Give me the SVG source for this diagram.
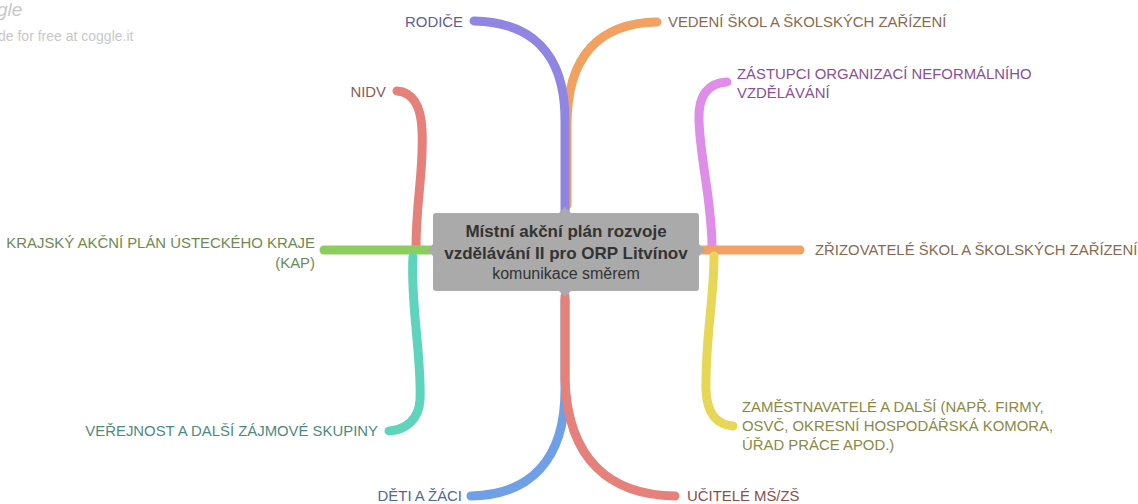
<svg xmlns="http://www.w3.org/2000/svg" width="1138" height="504" viewBox="0 0 1138 504">
<style>
.br{fill:none;stroke-width:9;stroke-linecap:round;stroke-linejoin:round}
.lb{font-family:"Liberation Sans",Arial,sans-serif;font-size:14.9px}
.ct{font-family:"Liberation Sans",Arial,sans-serif;fill:#333;text-anchor:middle}
.wm{font-family:"Liberation Sans",Arial,sans-serif;fill:#c8c8c8}
</style>
<rect width="1138" height="504" fill="#fff"/>
<g id="watermark">
<text class="wm" x="-3" y="16" font-size="19" font-style="italic" font-family="'DejaVu Serif',serif">gle</text>
<text class="wm" x="-2" y="41" font-size="14">de for free at coggle.it</text>
</g>
<g id="connectors">
<path class="br" stroke="#f1a262" d="M567,205 L567,125 C567,55 600,23 657,22"/>
<path class="br" stroke="#9085e3" d="M565,212 L565,120 C565,52 530,22 474,21"/>
<path class="br" stroke="#e5807a" d="M416,248 C416,200 424,170 422,130 C421,105 412,92 397,91"/>
<path class="br" stroke="#8ccd5d" d="M430,250 L324,250"/>
<path class="br" stroke="#5ed4bd" d="M413,257 C410,300 422,360 420,400 C419,420 405,430 389,431"/>
<path class="br" stroke="#de8ee8" d="M712,248 C712,200 700,160 699,120 C698,95 708,83 727,82"/>
<path class="br" stroke="#f1a262" d="M702,250 L800,250"/>
<path class="br" stroke="#e8d656" d="M714,256 C714,300 705,340 706,390 C707,415 718,425 733,426"/>
<path class="br" stroke="#6f9fe6" d="M565,300 L565,390 C565,460 530,495 471,496"/>
<path class="br" stroke="#e5807a" d="M565,296 L565,380 C568,460 610,495 675,496"/>
</g>
<g id="center">
<path fill="#aaaaaa" d="M436,213 L559,213 L565,207 L571,213 L696,213 Q699,213 699,216 L699,244 L705,250 L699,256 L699,288 Q699,291 696,291 L571,291 L565,297 L559,291 L436,291 Q433,291 433,288 L433,256 L427,250 L433,244 L433,216 Q433,213 436,213 Z"/>
<text class="ct" x="566" y="237" font-size="17" font-weight="bold">Místní akční plán rozvoje</text>
<text class="ct" x="566" y="259" font-size="17" font-weight="bold">vzdělávání II pro ORP Litvínov</text>
<text class="ct" x="566" y="279" font-size="16">komunikace směrem</text>
</g>
<g id="n-rodice"><text class="lb" x="463" y="27" text-anchor="end" fill="#5f5c9c">RODIČE</text></g>
<g id="n-vedeni"><text class="lb" x="668" y="27" fill="#8a6a4f">VEDENÍ ŠKOL A ŠKOLSKÝCH ZAŘÍZENÍ</text></g>
<g id="n-nidv"><text class="lb" x="386" y="97" text-anchor="end" fill="#8b5a56">NIDV</text></g>
<g id="n-kap"><text class="lb" text-anchor="end" fill="#6e8a52"><tspan x="315" y="248">KRAJSKÝ AKČNÍ PLÁN ÚSTECKÉHO KRAJE</tspan><tspan x="315" y="268">(KAP)</tspan></text></g>
<g id="n-verejnost"><text class="lb" x="378" y="436" text-anchor="end" fill="#4f8a7e">VEŘEJNOST A DALŠÍ ZÁJMOVÉ SKUPINY</text></g>
<g id="n-zastupci"><text class="lb" fill="#8a4f96"><tspan x="737" y="79">ZÁSTUPCI ORGANIZACÍ NEFORMÁLNÍHO</tspan><tspan x="737" y="98">VZDĚLÁVÁNÍ</tspan></text></g>
<g id="n-zrizovatele"><text class="lb" x="815" y="255" fill="#8a6a4f">ZŘIZOVATELÉ ŠKOL A ŠKOLSKÝCH ZAŘÍZENÍ</text></g>
<g id="n-zamestnavatele"><text class="lb" fill="#8a8a45"><tspan x="742" y="412">ZAMĚSTNAVATELÉ A DALŠÍ (NAPŘ. FIRMY,</tspan><tspan x="742" y="431">OSVČ, OKRESNÍ HOSPODÁŘSKÁ KOMORA,</tspan><tspan x="742" y="450">ÚŘAD PRÁCE APOD.)</tspan></text></g>
<g id="n-deti"><text class="lb" x="462" y="501" text-anchor="end" fill="#4f6a96">DĚTI A ŽÁCI</text></g>
<g id="n-ucitele"><text class="lb" x="687" y="501" fill="#8b4f4b">UČITELÉ MŠ/ZŠ</text></g>
</svg>
